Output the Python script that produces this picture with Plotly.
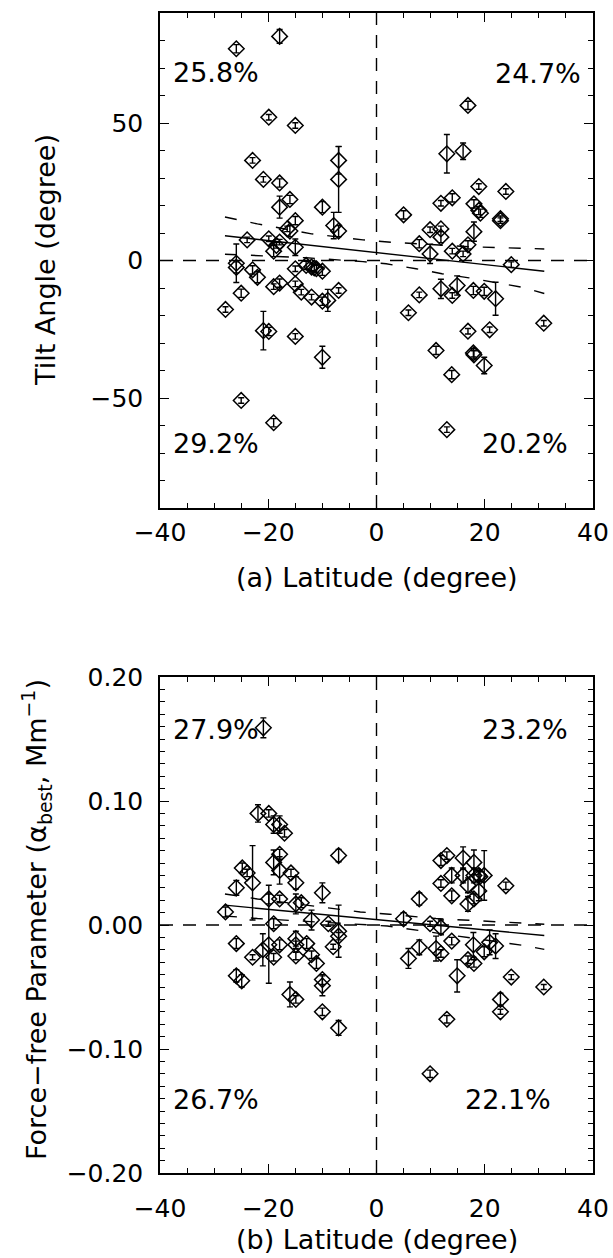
import plotly.graph_objects as go

# ---------------- Panel (a): tilt angle vs latitude ----------------
tilt_lat = [-25.9, -17.9, -19.9, -15.0, -22.9, -7.0, -7.0, -20.9, -17.9, -16.0,
            -17.9, -10.0, -15.0, -16.0, -7.9, -7.0, -23.9, -19.9, -17.9, -15.0,
            -19.0, -18.5, -16.5,
            -25.9, -25.9, -22.9, -22.0, -15.0, -13.0, -12.0, -11.1, -10.0, -19.0,
            -17.9, -15.0, -13.9, -12.0, -10.0, -9.0, -7.0, -25.0, -27.9, -20.9,
            -19.9, -15.0, -10.0, -25.0, -19.0, -11.5,
            16.9, 13.0, 16.0, 18.9, 23.9, 14.0, 11.9, 18.0, 18.9, 19.2,
            5.0, 22.9, 22.9, 9.9, 11.9, 11.9, 18.0, 7.9, 16.9, 9.9,
            14.0, 16.0,
            24.9, 7.9, 5.9, 11.9, 14.0, 14.9, 17.9, 19.9, 22.0, 16.9,
            20.9, 30.9, 11.0, 17.9, 18.0, 19.9, 13.9, 13.0]
tilt_val = [77.0, 81.5, 52.1, 49.1, 36.4, 36.4, 29.5, 29.5, 28.2, 22.2,
            19.4, 19.4, 14.5, 10.7, 12.7, 10.7, 7.5, 7.9, 6.7, 4.8,
            3.4, 5.5, 11.5,
            -1.0, -2.5, -3.4, -6.1, -3.0, -1.8, -2.4, -3.0, -3.9, -9.5,
            -8.2, -8.5, -11.5, -13.3, -14.8, -14.5, -10.9, -11.9, -17.8, -25.5,
            -25.8, -27.6, -35.2, -50.9, -59.0, -2.7,
            56.4, 38.8, 39.7, 26.9, 25.1, 22.8, 20.8, 20.6, 18.2, 17.2,
            16.6, 15.2, 14.5, 11.2, 11.5, 8.5, 10.5, 6.1, 5.7, 2.4,
            3.4, 2.4,
            -1.5, -12.5, -19.0, -10.3, -12.7, -9.1, -10.9, -11.2, -13.9, -25.7,
            -25.2, -22.8, -32.7, -33.6, -34.3, -38.2, -41.5, -61.5]
tilt_err = [1.5, 2.5, 1.0, 1.0, 1.0, 5.0, 12.0, 1.0, 1.5, 1.5,
            4.0, 2.0, 1.5, 2.0, 4.8, 2.0, 1.0, 1.0, 1.0, 3.0,
            2.0, 1.0, 1.0,
            7.0, 2.0, 1.5, 2.0, 1.0, 1.5, 1.5, 1.5, 1.5, 1.0,
            1.5, 1.0, 1.0, 1.0, 1.5, 4.0, 1.0, 1.5, 1.0, 7.0,
            1.5, 1.0, 4.0, 1.0, 1.5, 1.0,
            1.5, 7.0, 3.0, 1.0, 1.0, 1.5, 1.0, 1.5, 1.5, 1.5,
            1.5, 1.0, 1.0, 1.0, 1.0, 2.0, 3.5, 1.5, 1.5, 3.5,
            1.0, 1.0,
            1.0, 1.0, 1.0, 3.5, 1.0, 3.5, 1.5, 1.5, 6.0, 1.0,
            1.0, 1.0, 1.5, 1.5, 1.5, 3.0, 1.5, 1.0]

tilt_fit_lat = [-28, 31]
tilt_fit_val = [9.0, -3.9]
tilt_up_lat = [-28, -22, -12, -2.5, 3, 17, 31]
tilt_up_val = [15.8, 13.3, 9.7, 7.5, 6.6, 5.0, 4.2]
tilt_lo_lat = [-28, -22, -13, -2.5, 1.8, 7.3, 12.1, 17.1, 26.8, 31]
tilt_lo_val = [2.3, 1.8, 1.0, -0.4, -1.2, -3.0, -4.8, -6.3, -9.7, -12.0]

tilt_pct_text = ["25.8%", "24.7%", "29.2%", "20.2%"]
tilt_pct_x = [-37.9, 21.6, -37.9, 19.1]
tilt_pct_y = [68.5, 68.0, -66.5, -66.5]

# ---------------- Panel (b): force-free parameter vs latitude ----------------
alpha_lat = [-20.9, -21.9, -19.9, -19.0, -17.9, -17.0, -17.9, -7.0, -22.9, -24.8,
             -23.9, -25.9, -19.0, -17.9, -15.8, -14.9, -10.0, -19.9, -17.9, -14.9,
             -13.9, -27.9, -12.0, -8.9, -19.0,
             -7.0, -7.0, -25.9, -21.0, -17.9, -14.9, -14.9, -12.9, -14.9, -12.0,
             -8.0, -19.0, -22.9, -11.1, -25.9, -24.9, -10.0, -10.0, -16.0, -14.9,
             -10.0, -7.0, -19.9,
             13.0, 11.9, 16.0, 18.0, 19.9, 18.9, 19.1, 13.9, 16.0, 18.0,
             11.9, 16.9, 18.9, 23.9, 13.9, 7.9, 16.9, 18.0, 5.0, 9.9,
             11.9, 13.9, 7.9, 11.0, 11.9, 5.9, 17.9, 19.9, 20.9, 22.0,
             16.9, 18.0, 14.9, 24.9, 30.9, 22.9, 22.9, 13.0, 9.9]
alpha_val = [0.159, 0.090, 0.090, 0.081, 0.081, 0.074, 0.057, 0.056, 0.034, 0.046,
             0.042, 0.030, 0.0505, 0.044, 0.042, 0.034, 0.026, 0.021, 0.021, 0.017,
             0.018, 0.0105, 0.004, 0.001, 0.001,
             -0.005, -0.009, -0.015, -0.020, -0.016, -0.011, -0.016, -0.015, -0.025, -0.024,
             -0.0175, -0.026, -0.026, -0.031, -0.041, -0.045, -0.044, -0.049, -0.056, -0.060,
             -0.070, -0.083, -0.016,
             0.056, 0.052, 0.054, 0.0505, 0.040, 0.040, 0.039, 0.040, 0.040, 0.040,
             0.0335, 0.032, 0.0275, 0.0316, 0.0235, 0.021, 0.017, 0.021, 0.005, 0.001,
             -0.002, -0.013, -0.018, -0.019, -0.023, -0.027, -0.016, -0.0216, -0.014, -0.017,
             -0.028, -0.031, -0.041, -0.042, -0.050, -0.060, -0.070, -0.076, -0.120]
alpha_err_plus = [0.008, 0.007, 0.003, 0.007, 0.007, 0.003, 0.004, 0.005, 0.030, 0.004,
                  0.003, 0.006, 0.010, 0.011, 0.003, 0.005, 0.008, 0.004, 0.003, 0.008,
                  0.004, 0.004, 0.008, 0.002, 0.004,
                  0.021, 0.003, 0.004, 0.013, 0.004, 0.006, 0.003, 0.004, 0.003, 0.003,
                  0.002, 0.003, 0.002, 0.004, 0.005, 0.005, 0.004, 0.008, 0.010, 0.003,
                  0.003, 0.006, 0.048,
                  0.003, 0.004, 0.009, 0.010, 0.020, 0.004, 0.004, 0.006, 0.006, 0.006,
                  0.003, 0.006, 0.008, 0.003, 0.004, 0.005, 0.006, 0.004, 0.005, 0.002,
                  0.006, 0.003, 0.006, 0.010, 0.003, 0.008, 0.010, 0.004, 0.010, 0.010,
                  0.003, 0.003, 0.013, 0.002, 0.002, 0.005, 0.002, 0.003, 0.003]
alpha_err_minus = [0.008, 0.007, 0.003, 0.007, 0.007, 0.003, 0.004, 0.005, 0.030, 0.004,
                   0.003, 0.006, 0.010, 0.011, 0.003, 0.005, 0.008, 0.004, 0.003, 0.008,
                   0.004, 0.004, 0.008, 0.002, 0.004,
                   0.021, 0.003, 0.004, 0.013, 0.004, 0.006, 0.003, 0.004, 0.003, 0.003,
                   0.002, 0.003, 0.002, 0.004, 0.005, 0.005, 0.004, 0.008, 0.010, 0.003,
                   0.003, 0.006, 0.031,
                   0.003, 0.004, 0.009, 0.010, 0.020, 0.004, 0.004, 0.006, 0.006, 0.006,
                   0.003, 0.006, 0.008, 0.003, 0.004, 0.005, 0.006, 0.004, 0.005, 0.002,
                   0.006, 0.003, 0.006, 0.010, 0.003, 0.008, 0.010, 0.004, 0.010, 0.010,
                   0.003, 0.003, 0.013, 0.002, 0.002, 0.005, 0.002, 0.003, 0.003]

alpha_fit_lat = [-28, 31]
alpha_fit_val = [0.016, -0.0085]
alpha_up_lat = [-28, -22, -3, 2.4, 11, 31]
alpha_up_val = [0.025, 0.021, 0.0105, 0.0087, 0.0052, 0.0006]
alpha_lo_lat = [-28, -22, 2, 27, 31]
alpha_lo_val = [0.0073, 0.0052, -0.0008, -0.0164, -0.0197]

alpha_pct_text = ["27.9%", "23.2%", "26.7%", "22.1%"]
alpha_pct_x = [-37.9, 19.1, -37.9, 16.0]
alpha_pct_y = [0.158, 0.158, -0.141, -0.141]

# ---------------- Figure ----------------
FONT = "DejaVu Sans"
W, H = 613, 1258
ML, MR, MT, MB = 160, 20, 13, 85
PH = H - MT - MB
PW = W - ML - MR


def pfrac(py):
    return 1 - (py - MT) / PH


fig = go.Figure()


def add_panel(xa, ya, lat, val, ep, em, fl, fv, ul, uv, ll, lv):
    fig.add_trace(go.Scatter(
        x=lat, y=val, mode="markers", xaxis=xa, yaxis=ya,
        marker=dict(symbol="diamond-open", size=12, color="black",
                    line=dict(width=1.5, color="black")),
        error_y=dict(type="data", array=ep, arrayminus=em, symmetric=False,
                     color="black", thickness=1.4, width=3),
        showlegend=False, hoverinfo="skip"))
    fig.add_trace(go.Scatter(x=fl, y=fv, mode="lines", xaxis=xa, yaxis=ya,
                             line=dict(color="black", width=1.4),
                             showlegend=False, hoverinfo="skip"))
    for lx, ly in ((ul, uv), (ll, lv)):
        fig.add_trace(go.Scatter(x=lx, y=ly, mode="lines", xaxis=xa, yaxis=ya,
                                 line=dict(color="black", width=1.4, dash="12px,14px"),
                                 showlegend=False, hoverinfo="skip"))


add_panel("x", "y", tilt_lat, tilt_val, tilt_err, tilt_err,
          tilt_fit_lat, tilt_fit_val, tilt_up_lat, tilt_up_val, tilt_lo_lat, tilt_lo_val)
add_panel("x2", "y2", alpha_lat, alpha_val, alpha_err_plus, alpha_err_minus,
          alpha_fit_lat, alpha_fit_val, alpha_up_lat, alpha_up_val, alpha_lo_lat, alpha_lo_val)

axis_common = dict(showline=True, linecolor="black", linewidth=1.5, mirror="allticks",
                   ticks="inside", ticklen=9, tickwidth=1.3, tickcolor="black",
                   showgrid=False, zeroline=False, automargin=False,
                   tickfont=dict(family=FONT, size=25, color="black"))
minor_common = dict(ticklen=5, tickwidth=1.2, tickcolor="black", ticks="inside")

fig.update_layout(
    template="none",
    width=W, height=H, plot_bgcolor="white", paper_bgcolor="white",
    margin=dict(l=ML, r=MR, t=MT, b=MB, pad=0, autoexpand=False),
    font=dict(family=FONT, color="black"),
    xaxis=dict(domain=[0, 1], anchor="y", range=[-40, 40], tick0=0, dtick=20,
               minor=dict(dtick=5, **minor_common), ticklabelstandoff=1, **axis_common),
    yaxis=dict(domain=[pfrac(508), 1], anchor="x", range=[-90, 90], tick0=0, dtick=50,
               minor=dict(dtick=10, **minor_common), ticklabelstandoff=10, **axis_common),
    xaxis2=dict(domain=[0, 1], anchor="y2", range=[-40, 40], tick0=0, dtick=20,
                minor=dict(dtick=5, **minor_common), ticklabelstandoff=12, **axis_common),
    yaxis2=dict(domain=[0, pfrac(677)], anchor="x2", range=[-0.2, 0.2], tick0=0, dtick=0.1,
                tickformat=".2f", minor=dict(dtick=0.01, **minor_common),
                ticklabelstandoff=10, **axis_common),
)

# reference dashed lines at zero
ZD = dict(color="black", width=1.4, dash="13px,10px")
for xa, ya in (("x", "y"), ("x2", "y2")):
    fig.add_shape(type="line", xref=xa + " domain", yref=ya, x0=0, x1=1, y0=0, y1=0, line=ZD)
    fig.add_shape(type="line", xref=xa, yref=ya + " domain", x0=0, x1=0, y0=0, y1=1, line=ZD)

# percentage labels
PF = dict(family=FONT, size=27, color="black")
for t, px, py in zip(tilt_pct_text, tilt_pct_x, tilt_pct_y):
    fig.add_annotation(text=t, x=px, y=py, xref="x", yref="y", xanchor="left",
                       yanchor="middle", showarrow=False, font=PF)
for t, px, py in zip(alpha_pct_text, alpha_pct_x, alpha_pct_y):
    fig.add_annotation(text=t, x=px, y=py, xref="x2", yref="y2", xanchor="left",
                       yanchor="middle", showarrow=False, font=PF)

# axis titles
TF = dict(family=FONT, size=27, color="black")
fig.add_annotation(text="(a) Latitude (degree)", xref="paper", yref="paper",
                   x=0.5, y=pfrac(577), xanchor="center", yanchor="middle",
                   showarrow=False, font=TF)
fig.add_annotation(text="(b) Latitude (degree)", xref="paper", yref="paper",
                   x=0.5, y=pfrac(1239), xanchor="center", yanchor="middle",
                   showarrow=False, font=TF)
fig.add_annotation(text="Tilt Angle (degree)", xref="paper", yref="paper",
                   x=(45 - ML) / PW, y=pfrac(260), xanchor="center",
                   yanchor="middle", textangle=-90, showarrow=False, font=TF)
fig.add_annotation(text="Force\u2212free Parameter (\u03b1<sub>best</sub>, Mm<sup>\u22121</sup>)",
                   xref="paper", yref="paper",
                   x=(36 - ML) / PW, y=pfrac(920), xanchor="center",
                   yanchor="middle", textangle=-90, showarrow=False, font=TF)

# remove the default page margin so the figure sits at the window's top-left corner
fig.write_html("out.html", config={"displayModeBar": False},
               post_script="document.body.style.margin='0';")
